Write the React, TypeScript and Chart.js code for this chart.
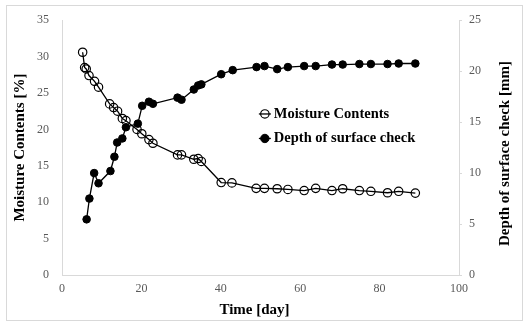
import React, { useEffect, useRef } from 'react';
import { Chart, registerables } from 'chart.js';

Chart.register(...registerables);

// ---- data ----
const moistureDays = [5.2, 5.7, 6.1, 6.8, 8.2, 9.2, 12.0, 13.0, 14.0, 15.2, 16.1, 18.9, 20.1, 21.9, 22.9, 29.1, 30.1, 33.2, 34.3, 35.1, 40.1, 42.8, 48.9, 51.0, 54.2, 56.9, 61.0, 63.9, 68.0, 70.7, 74.9, 77.8, 82.0, 84.8, 89.0];
const moistureContents = [30.6, 28.5, 28.3, 27.4, 26.6, 25.8, 23.5, 23.0, 22.5, 21.5, 21.2, 20.0, 19.4, 18.6, 18.1, 16.5, 16.5, 15.9, 16.0, 15.6, 12.7, 12.65, 11.9, 11.9, 11.85, 11.75, 11.6, 11.9, 11.6, 11.85, 11.6, 11.5, 11.3, 11.5, 11.25];

const depthDays = [6.2, 6.9, 8.1, 9.2, 12.2, 13.2, 13.9, 15.2, 16.1, 19.1, 20.2, 21.9, 22.9, 29.1, 30.1, 33.2, 34.3, 35.1, 40.1, 43.0, 49.0, 51.0, 54.2, 56.9, 61.0, 63.9, 68.0, 70.7, 74.9, 77.8, 82.0, 84.8, 89.0];
const depthValues = [5.46, 7.5, 10.0, 9.0, 10.2, 11.6, 13.0, 13.4, 14.5, 14.85, 16.6, 17.0, 16.8, 17.4, 17.2, 18.2, 18.6, 18.7, 19.7, 20.1, 20.4, 20.5, 20.2, 20.4, 20.5, 20.5, 20.65, 20.65, 20.7, 20.7, 20.7, 20.75, 20.75];

const xTicks = [0, 20, 40, 60, 80, 100];
const leftTicks = [0, 5, 10, 15, 20, 25, 30, 35];
const rightTicks = [0, 5, 10, 15, 20, 25];

const seriesLabels = ['Moisture Contents', 'Depth of surface check'];
const xTitle = 'Time [day]';
const leftTitle = 'Moisture Contents [%]';
const rightTitle = 'Depth of surface check [mm]';

const serif = "'Liberation Serif', 'Times New Roman', serif";
const axisGray = '#d9d9d9';
const tickColor = '#595959';

export default function App() {
  const ref = useRef<HTMLCanvasElement>(null);

  useEffect(() => {
    const canvas = ref.current!;
    const overlay = {
      id: 'overlay',
      afterDatasetsDraw(chart: any) {
        const ctx = chart.ctx as CanvasRenderingContext2D;
        const ca = chart.chartArea;
        const lx = ca.left + 0.511 * (ca.right - ca.left);
        let ly = ca.top + 0.368 * (ca.bottom - ca.top);
        chart.data.datasets.forEach((ds: any) => {
          ctx.save();
          ctx.strokeStyle = ds.borderColor;
          ctx.lineWidth = ds.borderWidth;
          ctx.beginPath();
          ctx.moveTo(lx - 6, ly);
          ctx.lineTo(lx + 6, ly);
          ctx.stroke();
          ctx.beginPath();
          ctx.arc(lx, ly, 4.2, 0, Math.PI * 2);
          if (ds.pointBackgroundColor !== 'transparent') {
            ctx.fillStyle = ds.pointBackgroundColor;
            ctx.fill();
          }
          ctx.lineWidth = ds.pointBorderWidth;
          ctx.strokeStyle = ds.pointBorderColor;
          ctx.stroke();
          ctx.font = `bold 14.5px ${serif}`;
          ctx.fillStyle = '#000';
          ctx.textAlign = 'left';
          ctx.textBaseline = 'middle';
          ctx.fillText(ds.label, lx + 9, ly);
          ctx.restore();
          ly += 24.5;
        });
        // right axis title (reads bottom-to-top)
        const s = chart.scales.y2;
        ctx.save();
        ctx.translate(s.right - 19, (ca.top + ca.bottom) / 2 + 6);
        ctx.rotate(-Math.PI / 2);
        ctx.font = `bold 15px ${serif}`;
        ctx.fillStyle = '#000';
        ctx.textAlign = 'center';
        ctx.textBaseline = 'middle';
        ctx.fillText(rightTitle, 0, 0);
        ctx.restore();
        // x axis title
        const sx = chart.scales.x;
        ctx.save();
        ctx.font = `bold 15px ${serif}`;
        ctx.fillStyle = '#000';
        ctx.textAlign = 'center';
        ctx.textBaseline = 'middle';
        ctx.fillText(xTitle, (ca.left + ca.right) / 2 - 6, sx.bottom - 11.5);
        ctx.restore();
      },
    };

    const tickFont = { family: serif, size: 12 };
    const titleFont = { family: serif, size: 15, weight: 'bold' as const };

    const chart = new Chart(canvas, {
      type: 'line',
      data: {
        datasets: [
          {
            label: seriesLabels[0],
            data: moistureDays.map((d, i) => ({ x: d, y: moistureContents[i] })),
            yAxisID: 'y',
            borderColor: '#000',
            borderWidth: 1.3,
            pointRadius: 4.2,
            pointBorderWidth: 1.2,
            pointBorderColor: '#000',
            pointBackgroundColor: 'transparent',
            tension: 0,
          },
          {
            label: seriesLabels[1],
            data: depthDays.map((d, i) => ({ x: d, y: depthValues[i] })),
            yAxisID: 'y2',
            borderColor: '#000',
            borderWidth: 1.3,
            pointRadius: 3.8,
            pointBorderWidth: 1,
            pointBorderColor: '#000',
            pointBackgroundColor: '#000',
            tension: 0,
          },
        ],
      },
      options: {
        responsive: false,
        animation: false,
        devicePixelRatio: 1,
        layout: { padding: { top: 14, left: 0, right: 0, bottom: 0 } },
        plugins: { legend: { display: false }, tooltip: { enabled: false } },
        scales: {
          x: {
            type: 'linear',
            position: 'bottom',
            min: 0,
            max: 100,
            afterBuildTicks: (s: any) => { s.ticks = xTicks.map((v) => ({ value: v })); },
            afterFit: (s: any) => { s.height = 47; },
            grid: { drawOnChartArea: false, drawTicks: false },
            border: { color: axisGray, width: 1 },
            ticks: { font: tickFont, color: tickColor, padding: 7, maxRotation: 0 },
            title: { display: false },
          },
          y: {
            type: 'linear',
            position: 'left',
            min: 0,
            max: 35,
            afterBuildTicks: (s: any) => { s.ticks = leftTicks.map((v) => ({ value: v })); },
            afterFit: (s: any) => { s.width = 62; },
            grid: { drawOnChartArea: false, drawTicks: false },
            border: { color: axisGray, width: 1 },
            ticks: { font: tickFont, color: tickColor, padding: 13 },
            title: { display: true, text: leftTitle, font: titleFont, color: '#000', padding: { top: 11.5, bottom: 0 } },
          },
          y2: {
            type: 'linear',
            position: 'right',
            min: 0,
            max: 25,
            afterBuildTicks: (s: any) => { s.ticks = rightTicks.map((v) => ({ value: v })); },
            afterFit: (s: any) => { s.width = 65; },
            grid: { drawOnChartArea: false, drawTicks: true, tickLength: 3, color: axisGray },
            border: { color: axisGray, width: 1 },
            ticks: { font: tickFont, color: tickColor, padding: 7 },
            title: { display: false },
          },
        },
      },
      plugins: [overlay],
    } as any);
    return () => chart.destroy();
  }, []);

  return (
    <div style={{ position: 'absolute', left: 0, top: 0, width: 524, height: 322, background: '#fff' }}>
      <div style={{ position: 'absolute', left: 6, top: 5, width: 517, height: 316, border: `1px solid ${axisGray}`, boxSizing: 'border-box' }} />
      <canvas ref={ref} width={524} height={322} style={{ position: 'absolute', left: 0, top: 0, display: 'block', width: 524, height: 322 }} />
    </div>
  );
}
